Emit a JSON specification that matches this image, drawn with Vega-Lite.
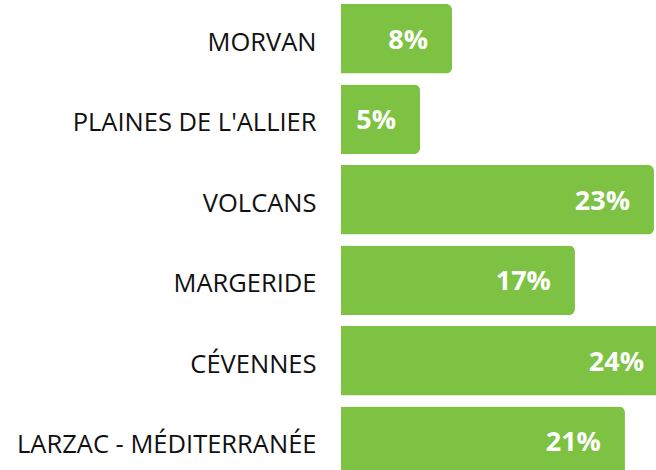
{
  "$schema": "https://vega.github.io/schema/vega-lite/v6.json",
  "width": 327,
  "height": 480,
  "autosize": {"type": "none"},
  "padding": {"left": 341, "top": 0, "right": 0, "bottom": 0},
  "background": "white",
  "config": {"view": {"stroke": null}},
  "data": {
    "values": [
      {"region": "MORVAN", "value": 8.15, "label": "8%"},
      {"region": "PLAINES DE L'ALLIER", "value": 5.8, "label": "5%"},
      {"region": "VOLCANS", "value": 22.97, "label": "23%"},
      {"region": "MARGERIDE", "value": 17.17, "label": "17%"},
      {"region": "CÉVENNES", "value": 24.0, "label": "24%"},
      {"region": "LARZAC - MÉDITERRANÉE", "value": 20.84, "label": "21%"}
    ]
  },
  "encoding": {
    "y": {
      "field": "region",
      "type": "nominal",
      "sort": null,
      "scale": {"paddingInner": 0.1375, "paddingOuter": 0.05},
      "axis": {
        "title": null,
        "domain": false,
        "ticks": false,
        "labelPadding": 25,
        "labelFont": "Open Sans",
        "labelFontSize": 25.5,
        "labelColor": "#111111",
        "labelOffset": 4,
        "labelLimit": 400
      }
    },
    "x": {
      "field": "value",
      "type": "quantitative",
      "scale": {"domain": [0, 24], "nice": false},
      "axis": null
    }
  },
  "layer": [
    {
      "mark": {"type": "bar", "color": "#7dc242", "cornerRadiusEnd": 6}
    },
    {
      "mark": {
        "type": "text",
        "align": "right",
        "baseline": "middle",
        "dx": -24,
        "dy": 2,
        "font": "Open Sans",
        "fontSize": 27,
        "fontWeight": "bold",
        "color": "white"
      },
      "encoding": {"text": {"field": "label"}}
    }
  ]
}
